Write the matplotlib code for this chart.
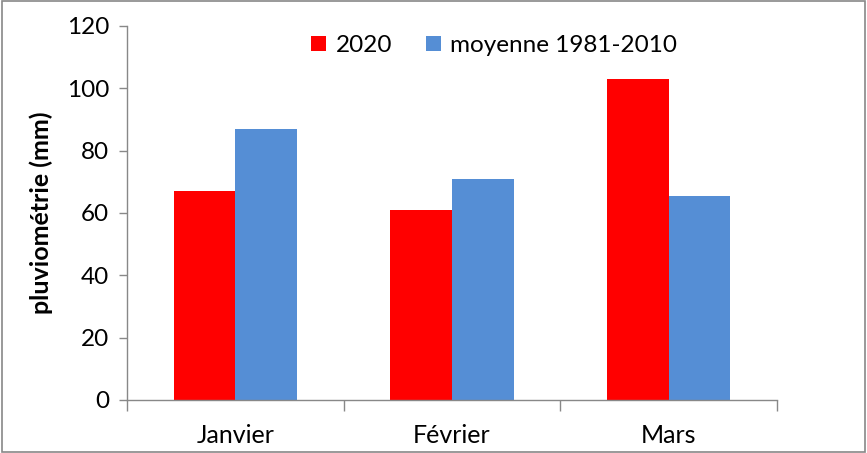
import matplotlib.pyplot as plt
from matplotlib.patches import Rectangle
import numpy as np

# Data
mois = ['Janvier', 'Février', 'Mars']
pluie_2020 = [67, 61, 103]
moyenne_1981_2010 = [87, 71, 65.4]

plt.rcParams['font.family'] = ['Lato', 'DejaVu Sans']

fig = plt.figure(figsize=(8.67, 4.53), dpi=100)
ax = fig.add_axes([127 / 867, 1 - 400 / 453, 650 / 867, 374 / 453])

x = np.arange(len(mois))
w = 0.285
ax.bar(x - w / 2, pluie_2020, w, color='#ff0000', label='2020')
ax.bar(x + w / 2, moyenne_1981_2010, w, color='#558ed5', label='moyenne 1981-2010')

ax.set_xlim(-0.5, len(mois) - 0.5)
ax.set_ylim(0, 120)
ax.set_yticks(range(0, 121, 20))

# category ticks between groups
ax.set_xticks(np.arange(-0.5, len(mois), 1.0))
ax.set_xticklabels([])
ax.set_xticks(x, minor=True)
ax.set_xticklabels(mois, minor=True, fontsize=18)
ax.tick_params(axis='x', which='minor', length=0, pad=17)
ax.tick_params(axis='x', which='major', length=8, color='#888888', width=1)
ax.tick_params(axis='y', length=6, color='#888888', width=1, labelsize=17.5, pad=7)

for s in ['top', 'right']:
    ax.spines[s].set_visible(False)
for s in ['left', 'bottom']:
    ax.spines[s].set_color('#888888')
    ax.spines[s].set_linewidth(1)

ax.set_ylabel('pluviométrie (mm)', fontsize=18, fontweight='bold', labelpad=10)

ax.legend(loc='upper center', bbox_to_anchor=(0.565, 1.035), ncol=2, frameon=False,
          fontsize=17.5, handlelength=0.6, handleheight=0.6, handletextpad=0.4,
          columnspacing=1.4)

# outer frame
fig.patches.append(Rectangle((0.002, 0.003), 0.996, 0.994, transform=fig.transFigure,
                             fill=False, edgecolor='#888888', linewidth=1.2))

fig.savefig('out.png', dpi=100)
